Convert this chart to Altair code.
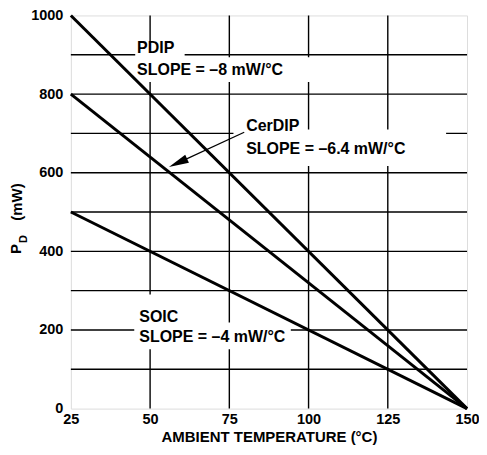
import altair as alt
import pandas as pd

FONT = "Liberation Sans"

# ---- data ----
packages = ["PDIP", "CerDIP", "SOIC"]
pd_at_25 = [1000, 800, 500]      # mW at 25 °C
pd_at_150 = [0, 0, 0]            # mW at 150 °C
t_start = [25, 25, 25]
t_end = [150, 150, 150]

x_ticks = [25, 50, 75, 100, 125, 150]
y_ticks = [0, 200, 400, 600, 800, 1000]
x_grid = [50, 75, 100, 125]
y_grid = [100, 200, 300, 400, 500, 600, 700, 800, 900]

label_pkg = ["PDIP", "CerDIP", "SOIC"]
label_slope = ["SLOPE = \u20138 mW/\u00b0C", "SLOPE = \u20136.4 mW/\u00b0C", "SLOPE = \u20134 mW/\u00b0C"]
label_t = [45.9, 80.3, 46.6]
label_v_pkg = [917, 718, 234]
label_v_slope = [861, 661, 183]

# white backgrounds behind labels (t1, t2, v1, v2)
box_t1 = [45.3, 45.3, 78.4, 76.3, 45.3, 45.0]
box_t2 = [60.9, 103.4, 98.4, 143.4, 61.6, 94.4]
box_v1 = [892, 831, 705, 617, 214, 151]
box_v2 = [935, 894, 748, 710, 290, 219]

# arrow pointing to CerDIP line
arrow_t = [79.7]
arrow_v = [703]
arrow_head_t = [58.8]
arrow_head_v = [625]
arrow_angle = [245.6]

# ---- tables ----
lines_df = pd.DataFrame({
    "pkg": packages * 2,
    "t": t_start + t_end,
    "v": pd_at_25 + pd_at_150,
})
xgrid_df = pd.DataFrame({"t": x_grid})
ygrid_df = pd.DataFrame({"v": y_grid})
labels_df = pd.DataFrame({"pkg": label_pkg, "slope": label_slope, "t": label_t,
                          "vp": label_v_pkg, "vs": label_v_slope})
box_df = pd.DataFrame({"t1": box_t1, "t2": box_t2, "v1": box_v1, "v2": box_v2})
arrow_df = pd.DataFrame({"t": arrow_t, "v": arrow_v, "t2": arrow_head_t, "v2": arrow_head_v,
                         "a": arrow_angle})

xs = alt.Scale(domain=[25, 150], nice=False, zero=False)
ys = alt.Scale(domain=[0, 1000], nice=False)

x_axis = alt.Axis(values=x_ticks, grid=False, ticks=False, domain=False, format="d",
                  labelFont=FONT, labelFontSize=14.5, labelFontWeight="bold", labelColor="black",
                  labelPadding=4, title="AMBIENT TEMPERATURE (\u00b0C)", titleFont=FONT,
                  titleFontSize=15, titleFontWeight="bold", titleColor="black", titlePadding=3,
                  labelFlush=False)
y_axis = alt.Axis(values=y_ticks, grid=False, ticks=False, domain=False, format="d",
                  labelFont=FONT, labelFontSize=14.5, labelFontWeight="bold", labelColor="black",
                  labelPadding=8, title=None)

vgrid = alt.Chart(xgrid_df).mark_rule(color="black", strokeWidth=1.4).encode(
    x=alt.X("t:Q", scale=xs, axis=x_axis))
hgrid = alt.Chart(ygrid_df).mark_rule(color="black", strokeWidth=1.4).encode(
    y=alt.Y("v:Q", scale=ys, axis=y_axis))

boxes = alt.Chart(box_df).mark_rect(color="white").encode(
    x=alt.X("t1:Q", scale=xs), x2="t2:Q", y=alt.Y("v1:Q", scale=ys), y2="v2:Q")

lines = alt.Chart(lines_df).mark_line(color="black", strokeWidth=3).encode(
    x=alt.X("t:Q", scale=xs), y=alt.Y("v:Q", scale=ys), detail="pkg:N")

arrow_line = alt.Chart(arrow_df).mark_rule(color="black", strokeWidth=1.3).encode(
    x=alt.X("t:Q", scale=xs), y=alt.Y("v:Q", scale=ys), x2="t2:Q", y2="v2:Q")
arrow_head = alt.Chart(arrow_df).mark_point(
    shape="M0,-1L0.45,1L-0.45,1Z", filled=True, color="black", opacity=1, size=400,
    strokeWidth=0).encode(
    x=alt.X("t2:Q", scale=xs), y=alt.Y("v2:Q", scale=ys), angle=alt.Angle("a:Q", scale=None))

txt_kw = dict(font=FONT, fontSize=16, fontWeight="bold", color="black", align="left",
              baseline="middle")
pkg_text = alt.Chart(labels_df).mark_text(**txt_kw).encode(
    x=alt.X("t:Q", scale=xs), y=alt.Y("vp:Q", scale=ys), text="pkg:N")
slope_text = alt.Chart(labels_df).mark_text(**txt_kw).encode(
    x=alt.X("t:Q", scale=xs), y=alt.Y("vs:Q", scale=ys), text="slope:N")

# y-axis title with subscript: P_D (mW)
ytitle_df = pd.DataFrame({"s": ["P"]})
yt_kw = dict(font=FONT, fontWeight="bold", color="black", angle=270, align="center",
             baseline="middle")
yt_p = alt.Chart(ytitle_df).mark_text(text="P", fontSize=15, **yt_kw).encode(
    x=alt.value(-55), y=alt.value(234))
yt_d = alt.Chart(ytitle_df).mark_text(text="D", fontSize=11, **yt_kw).encode(
    x=alt.value(-47), y=alt.value(224))
yt_mw = alt.Chart(ytitle_df).mark_text(text="(mW)", fontSize=15, **yt_kw).encode(
    x=alt.value(-54), y=alt.value(187))

chart = alt.layer(vgrid, hgrid, boxes, lines, arrow_line, arrow_head, pkg_text, slope_text,
                  yt_p, yt_d, yt_mw).properties(
    width=397, height=394,
    autosize=alt.AutoSizeParams(type="none"),
    padding={"left": 63, "top": 7, "right": 12, "bottom": 38},
).configure_view(stroke="black", strokeWidth=2.5).configure(background="white")

chart.save("out.html", embed_options={"renderer": "svg", "actions": False})
